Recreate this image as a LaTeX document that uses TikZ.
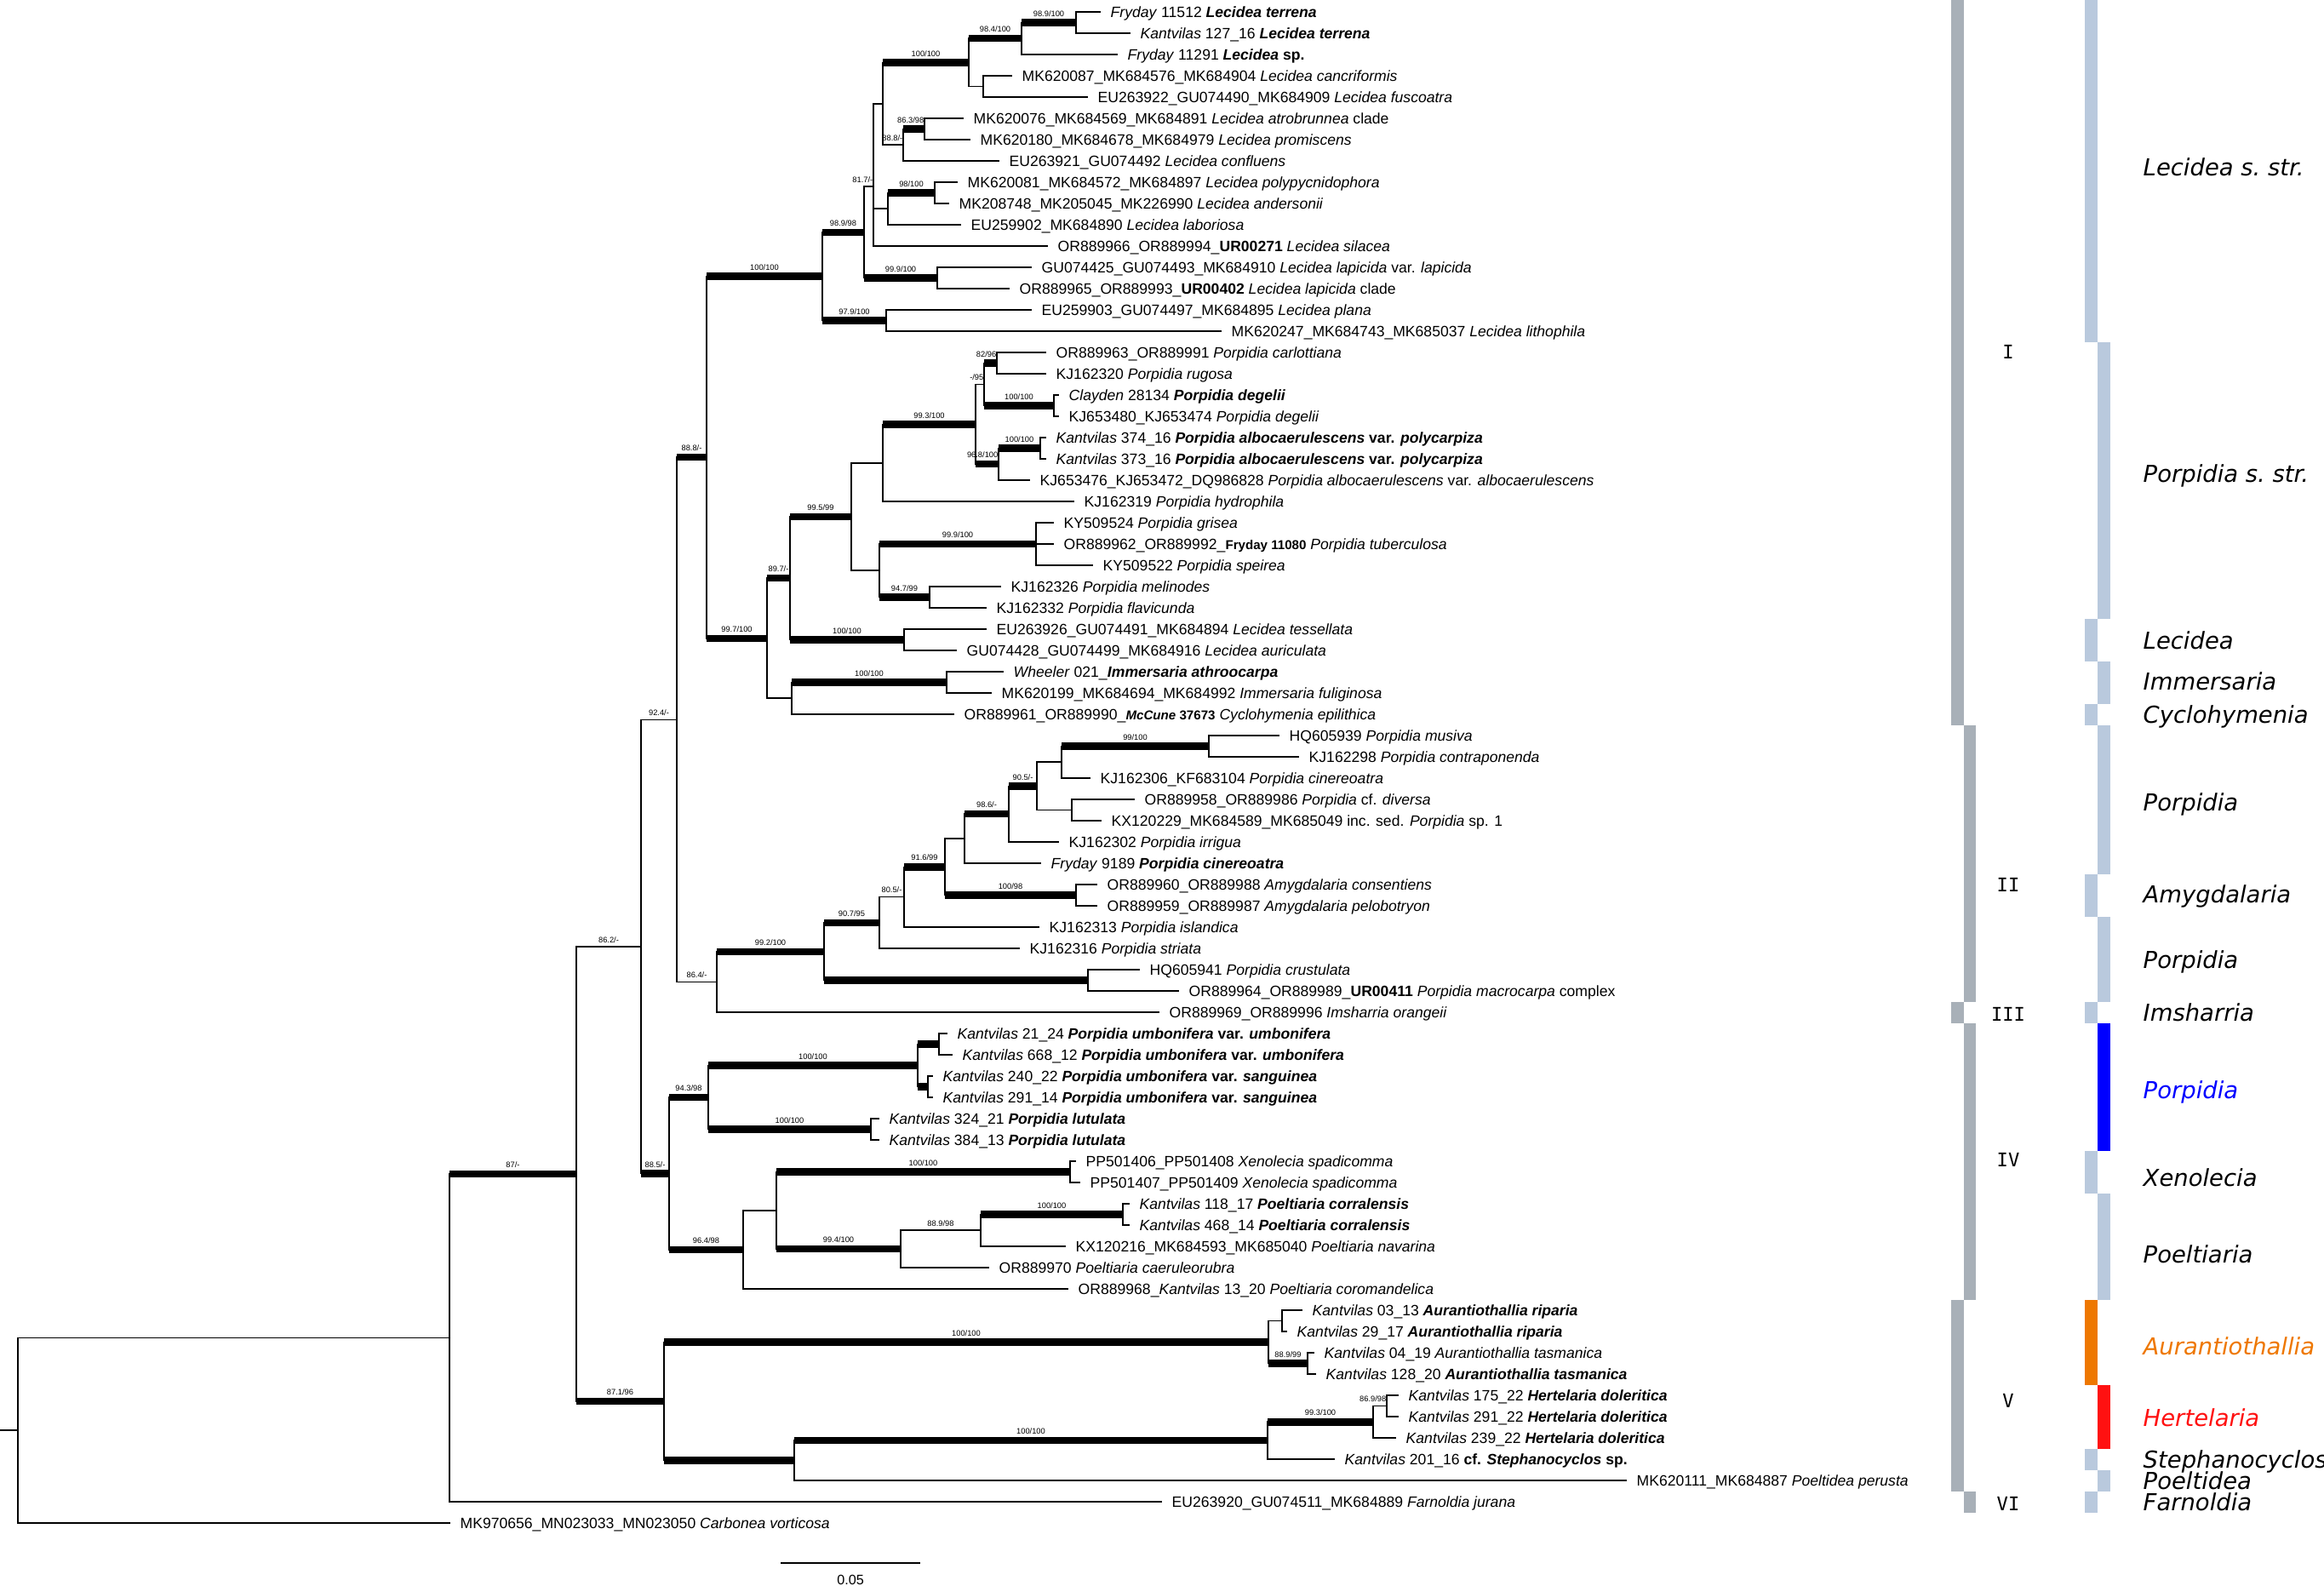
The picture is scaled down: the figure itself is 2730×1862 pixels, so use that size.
\documentclass[tikz,border=0pt]{standalone}
\usepackage{fontspec}
\setmainfont{Liberation Sans}
\newfontfamily\dvsans{DejaVu Sans}
\newfontfamily\dvmono{DejaVu Sans Mono}
\usetikzlibrary{calc}
\definecolor{barg}{HTML}{A8B0B8}
\definecolor{barb}{HTML}{B9C9DD}
\definecolor{clblue}{HTML}{0000FF}
\definecolor{clorange}{HTML}{EE7700}
\definecolor{clred}{HTML}{FF1111}
\newcommand\BI[1]{\textbf{\textit{#1}}}
\newcommand\smb[1]{{\fontsize{4.3}{5}\selectfont\textbf{#1}}}
\tikzset{
  thinbr/.style={line width=0.45pt, line cap=rect},
  thickbr/.style={line width=2.4pt},
  leaf/.style={anchor=base west, inner sep=0pt, font=\fontsize{5}{6}\selectfont, yshift=-1.8pt},
  bsl/.style={anchor=base, inner sep=0pt, font=\fontsize{2.65}{3}\selectfont},
  grp/.style={anchor=base west, inner sep=0pt, font=\dvsans\itshape\fontsize{7.8}{9}\selectfont, yshift=-2.6pt},
  roman/.style={anchor=base, inner sep=0pt, font=\dvmono\fontsize{6.3}{7}\selectfont, yshift=-2.3pt}
}
\newcommand\TNode[3]{\coordinate (#1) at (#2,#3);}
\newcommand\TThick[2]{\draw[thickbr] (#1 |- #2) -- (#2);}
\newcommand\TThin[2]{\draw[thinbr] (#1 |- #2) -- (#2);}
\newcommand\TVert[3]{\draw[thinbr] (#1 |- #2) -- (#1 |- #3);}
\newcommand\LabK[3]{\node[bsl,yshift=2.1pt] (b#2) at ($(#1 |- #2)!0.5!(#2)$) {#3};}
\newcommand\LabN[3]{\node[bsl,yshift=1.4pt] (b#2) at ($(#1 |- #2)!0.5!(#2)$) {#3};}
\newcommand\LabKR[2]{\node[bsl,anchor=base east,yshift=2.1pt] (b#1) at (#1) {#2};}
\newcommand\LabNR[2]{\node[bsl,anchor=base east,yshift=1.4pt] (b#1) at (#1) {#2};}
\newcommand\TLeaf[4]{\coordinate (t#1) at (#3,{25*#1-11});
  \draw[thinbr] (#2 |- t#1) -- (t#1);
  \node[leaf] (n#1) at ($(t#1)+(12,0)$) {#4};}
\begin{document}
\begin{tikzpicture}[x=0.01cm,y=-0.01cm]
\useasboundingbox (0,0) rectangle (2730,1862);
% ---------- internal nodes ----------
\TNode{R}{21}{1680.25}
\TNode{A}{528}{1571.5}
\TNode{B}{677}{1379}
\TNode{C}{753}{1111.9}
\TNode{E}{795}{845.3}
\TNode{F}{830}{537.2}
\TNode{G}{966}{324.6}
\TNode{I}{1015}{272.75}
\TNode{K}{1026}{219}
\TNode{P}{1037}{121.8}
\TNode{M}{1138}{73.4}
\TNode{Ma}{1200}{45.25}
\TNode{T}{1264}{26.5}
\TNode{Mb}{1155}{101.5}
\TNode{N}{1061}{170.25}
\TNode{Na}{1086}{151.5}
\TNode{Oa}{1043}{245.25}
\TNode{O}{1098}{226.5}
\TNode{L}{1101}{326.5}
\TNode{J}{1041}{376.5}
\TNode{H}{901}{749.75}
\TNode{Q}{928}{679.25}
\TNode{S}{1000}{607}
\TNode{V}{1037}{543.7}
\TNode{X}{1146}{498.4}
\TNode{AA}{1156}{451.5}
\TNode{AB}{1171}{426.5}
\TNode{AC}{1238}{476.5}
\TNode{AD}{1173}{545.25}
\TNode{AE}{1222}{526.5}
\TNode{W}{1033}{670.25}
\TNode{Y}{1217}{639}
\TNode{Z}{1092}{701.5}
\TNode{TS}{1062}{751.5}
\TNode{Rr}{930}{820.25}
\TNode{U}{1112}{801.5}
\TNode{AF}{842}{1153.3}
\TNode{AG}{968}{1117.7}
\TNode{AH}{1033}{1083.8}
\TNode{AJ}{1062}{1053.6}
\TNode{AK}{1110}{1018.3}
\TNode{AL}{1133}{985.1}
\TNode{AN}{1185}{956.2}
\TNode{AO}{1218}{923.4}
\TNode{AQ}{1247}{895.25}
\TNode{AP}{1420}{876.5}
\TNode{AR}{1259}{951.5}
\TNode{AM}{1264}{1051.5}
\TNode{AI}{1278}{1151.5}
\TNode{CC}{786}{1378.5}
\TNode{CD}{832}{1289}
\TNode{CE}{1078}{1251.5}
\TNode{Ua}{1103}{1226.5}
\TNode{Ub}{1090}{1276.5}
\TNode{CH}{1023}{1326.5}
\TNode{CI}{873}{1467.9}
\TNode{CJ}{912}{1421.8}
\TNode{CK}{1257}{1376.5}
\TNode{CL}{1058}{1467.1}
\TNode{CM}{1152}{1445.25}
\TNode{CN}{1319}{1426.5}
\TNode{D}{780}{1646}
\TNode{DA}{1490}{1576.5}
\TNode{DB}{1506}{1551.5}
\TNode{DC}{1536}{1601.5}
\TNode{DD}{933}{1715.6}
\TNode{DE}{1489}{1692.1}
\TNode{DF}{1613}{1670.25}
\TNode{DG}{1629}{1651.5}
\coordinate (root0) at (0,1680.25);
% ---------- leaves ----------
\TLeaf{1}{T}{1292}{\textit{Fryday} 11512 \BI{Lecidea terrena}}
\TLeaf{2}{T}{1327}{\textit{Kantvilas} 127\_16 \BI{Lecidea terrena}}
\TLeaf{3}{Ma}{1312}{\textit{Fryday} 11291 \BI{Lecidea} \textbf{sp.}}
\TLeaf{4}{Mb}{1188}{MK620087\_MK684576\_MK684904 \textit{Lecidea cancriformis}}
\TLeaf{5}{Mb}{1277}{EU263922\_GU074490\_MK684909 \textit{Lecidea fuscoatra}}
\TLeaf{6}{Na}{1131}{MK620076\_MK684569\_MK684891 \textit{Lecidea atrobrunnea} clade}
\TLeaf{7}{Na}{1139}{MK620180\_MK684678\_MK684979 \textit{Lecidea promiscens}}
\TLeaf{8}{N}{1173}{EU263921\_GU074492 \textit{Lecidea confluens}}
\TLeaf{9}{O}{1124}{MK620081\_MK684572\_MK684897 \textit{Lecidea polypycnidophora}}
\TLeaf{10}{O}{1114}{MK208748\_MK205045\_MK226990 \textit{Lecidea andersonii}}
\TLeaf{11}{Oa}{1128}{EU259902\_MK684890 \textit{Lecidea laboriosa}}
\TLeaf{12}{K}{1230}{OR889966\_OR889994\_\textbf{UR00271} \textit{Lecidea silacea}}
\TLeaf{13}{L}{1211}{GU074425\_GU074493\_MK684910 \textit{Lecidea lapicida} var. \textit{lapicida}}
\TLeaf{14}{L}{1185}{OR889965\_OR889993\_\textbf{UR00402} \textit{Lecidea lapicida} clade}
\TLeaf{15}{J}{1211}{EU259903\_GU074497\_MK684895 \textit{Lecidea plana}}
\TLeaf{16}{J}{1434}{MK620247\_MK684743\_MK685037 \textit{Lecidea lithophila}}
\TLeaf{17}{AB}{1228}{OR889963\_OR889991 \textit{Porpidia carlottiana}}
\TLeaf{18}{AB}{1228}{KJ162320 \textit{Porpidia rugosa}}
\TLeaf{19}{AC}{1243}{\textit{Clayden} 28134 \BI{Porpidia degelii}}
\TLeaf{20}{AC}{1243}{KJ653480\_KJ653474 \textit{Porpidia degelii}}
\TLeaf{21}{AE}{1228}{\textit{Kantvilas} 374\_16 \textbf{\textit{Porpidia albocaerulescens} var. \textit{polycarpiza}}}
\TLeaf{22}{AE}{1228}{\textit{Kantvilas} 373\_16 \textbf{\textit{Porpidia albocaerulescens} var. \textit{polycarpiza}}}
\TLeaf{23}{AD}{1209}{KJ653476\_KJ653472\_DQ986828 \textit{Porpidia albocaerulescens} var. \textit{albocaerulescens}}
\TLeaf{24}{V}{1261}{KJ162319 \textit{Porpidia hydrophila}}
\TLeaf{25}{Y}{1237}{KY509524 \textit{Porpidia grisea}}
\TLeaf{26}{Y}{1237}{OR889962\_OR889992\_\smb{Fryday 11080} \textit{Porpidia tuberculosa}}
\TLeaf{27}{Y}{1283}{KY509522 \textit{Porpidia speirea}}
\TLeaf{28}{Z}{1175}{KJ162326 \textit{Porpidia melinodes}}
\TLeaf{29}{Z}{1158}{KJ162332 \textit{Porpidia flavicunda}}
\TLeaf{30}{TS}{1158}{EU263926\_GU074491\_MK684894 \textit{Lecidea tessellata}}
\TLeaf{31}{TS}{1123}{GU074428\_GU074499\_MK684916 \textit{Lecidea auriculata}}
\TLeaf{32}{U}{1178}{\textit{Wheeler} 021\_\BI{Immersaria athroocarpa}}
\TLeaf{33}{U}{1164}{MK620199\_MK684694\_MK684992 \textit{Immersaria fuliginosa}}
\TLeaf{34}{Rr}{1120}{OR889961\_OR889990\_{\fontsize{4.3}{5}\selectfont\BI{McCune} \textbf{37673}} \textit{Cyclohymenia epilithica}}
\TLeaf{35}{AP}{1502}{HQ605939 \textit{Porpidia musiva}}
\TLeaf{36}{AP}{1525}{KJ162298 \textit{Porpidia contraponenda}}
\TLeaf{37}{AQ}{1280}{KJ162306\_KF683104 \textit{Porpidia cinereoatra}}
\TLeaf{38}{AR}{1332}{OR889958\_OR889986 \textit{Porpidia} cf. \textit{diversa}}
\TLeaf{39}{AR}{1293}{KX120229\_MK684589\_MK685049 inc. sed. \textit{Porpidia} sp. 1}
\TLeaf{40}{AN}{1243}{KJ162302 \textit{Porpidia irrigua}}
\TLeaf{41}{AL}{1222}{\textit{Fryday} 9189 \BI{Porpidia cinereoatra}}
\TLeaf{42}{AM}{1288}{OR889960\_OR889988 \textit{Amygdalaria consentiens}}
\TLeaf{43}{AM}{1288}{OR889959\_OR889987 \textit{Amygdalaria pelobotryon}}
\TLeaf{44}{AJ}{1220}{KJ162313 \textit{Porpidia islandica}}
\TLeaf{45}{AH}{1197}{KJ162316 \textit{Porpidia striata}}
\TLeaf{46}{AI}{1338}{HQ605941 \textit{Porpidia crustulata}}
\TLeaf{47}{AI}{1384}{OR889964\_OR889989\_\textbf{UR00411} \textit{Porpidia macrocarpa} complex}
\TLeaf{48}{AF}{1361}{OR889969\_OR889996 \textit{Imsharria orangeii}}
\TLeaf{49}{Ua}{1112}{\textit{Kantvilas} 21\_24 \textbf{\textit{Porpidia umbonifera} var. \textit{umbonifera}}}
\TLeaf{50}{Ua}{1118}{\textit{Kantvilas} 668\_12 \textbf{\textit{Porpidia umbonifera} var. \textit{umbonifera}}}
\TLeaf{51}{Ub}{1095}{\textit{Kantvilas} 240\_22 \textbf{\textit{Porpidia umbonifera} var. \textit{sanguinea}}}
\TLeaf{52}{Ub}{1095}{\textit{Kantvilas} 291\_14 \textbf{\textit{Porpidia umbonifera} var. \textit{sanguinea}}}
\TLeaf{53}{CH}{1032}{\textit{Kantvilas} 324\_21 \BI{Porpidia lutulata}}
\TLeaf{54}{CH}{1032}{\textit{Kantvilas} 384\_13 \BI{Porpidia lutulata}}
\TLeaf{55}{CK}{1263}{PP501406\_PP501408 \textit{Xenolecia spadicomma}}
\TLeaf{56}{CK}{1268}{PP501407\_PP501409 \textit{Xenolecia spadicomma}}
\TLeaf{57}{CN}{1326}{\textit{Kantvilas} 118\_17 \BI{Poeltiaria corralensis}}
\TLeaf{58}{CN}{1326}{\textit{Kantvilas} 468\_14 \BI{Poeltiaria corralensis}}
\TLeaf{59}{CM}{1251}{KX120216\_MK684593\_MK685040 \textit{Poeltiaria navarina}}
\TLeaf{60}{CL}{1161}{OR889970 \textit{Poeltiaria caeruleorubra}}
\TLeaf{61}{CI}{1254}{OR889968\_\textit{Kantvilas} 13\_20 \textit{Poeltiaria coromandelica}}
\TLeaf{62}{DB}{1529}{\textit{Kantvilas} 03\_13 \BI{Aurantiothallia riparia}}
\TLeaf{63}{DB}{1511}{\textit{Kantvilas} 29\_17 \BI{Aurantiothallia riparia}}
\TLeaf{64}{DC}{1543}{\textit{Kantvilas} 04\_19 \textit{Aurantiothallia tasmanica}}
\TLeaf{65}{DC}{1545}{\textit{Kantvilas} 128\_20 \BI{Aurantiothallia tasmanica}}
\TLeaf{66}{DG}{1642}{\textit{Kantvilas} 175\_22 \BI{Hertelaria doleritica}}
\TLeaf{67}{DG}{1642}{\textit{Kantvilas} 291\_22 \BI{Hertelaria doleritica}}
\TLeaf{68}{DF}{1639}{\textit{Kantvilas} 239\_22 \BI{Hertelaria doleritica}}
\TLeaf{69}{DE}{1567}{\textit{Kantvilas} 201\_16 \textbf{cf. \textit{Stephanocyclos} sp.}}
\TLeaf{70}{DD}{1910}{MK620111\_MK684887 \textit{Poeltidea perusta}}
\TLeaf{71}{A}{1364}{EU263920\_GU074511\_MK684889 \textit{Farnoldia jurana}}
\TLeaf{72}{R}{528}{MK970656\_MN023033\_MN023050 \textit{Carbonea vorticosa}}
% ---------- verticals ----------
\TVert{R}{A}{t72} \TVert{A}{B}{t71} \TVert{B}{C}{D} \TVert{C}{E}{CC} \TVert{E}{F}{AF}
\TVert{F}{G}{H} \TVert{G}{I}{J} \TVert{I}{K}{L} \TVert{K}{P}{t12} \TVert{P}{M}{N}
\TVert{M}{Ma}{Mb} \TVert{Ma}{T}{t3} \TVert{T}{t1}{t2} \TVert{Mb}{t4}{t5} \TVert{N}{Na}{t8}
\TVert{Na}{t6}{t7} \TVert{Oa}{O}{t11} \TVert{O}{t9}{t10} \TVert{L}{t13}{t14} \TVert{J}{t15}{t16}
\TVert{H}{Q}{Rr} \TVert{Q}{S}{TS} \TVert{S}{V}{W} \TVert{V}{X}{t24} \TVert{X}{AA}{AD}
\TVert{AA}{AB}{AC} \TVert{AB}{t17}{t18} \TVert{AC}{t19}{t20} \TVert{AD}{AE}{t23} \TVert{AE}{t21}{t22}
\TVert{W}{Y}{Z} \TVert{Y}{t25}{t27} \TVert{Z}{t28}{t29} \TVert{TS}{t30}{t31} \TVert{Rr}{U}{t34}
\TVert{U}{t32}{t33} \TVert{AF}{AG}{t48} \TVert{AG}{AH}{AI} \TVert{AH}{AJ}{t45} \TVert{AJ}{AK}{t44}
\TVert{AK}{AL}{AM} \TVert{AL}{AN}{t41} \TVert{AN}{AO}{t40} \TVert{AO}{AQ}{AR} \TVert{AQ}{AP}{t37}
\TVert{AP}{t35}{t36} \TVert{AR}{t38}{t39} \TVert{AM}{t42}{t43} \TVert{AI}{t46}{t47}
\TVert{CC}{CD}{CI} \TVert{CD}{CE}{CH} \TVert{CE}{Ua}{Ub} \TVert{Ua}{t49}{t50} \TVert{Ub}{t51}{t52}
\TVert{CH}{t53}{t54} \TVert{CI}{CJ}{t61} \TVert{CJ}{CK}{CL} \TVert{CK}{t55}{t56} \TVert{CL}{CM}{t60}
\TVert{CM}{CN}{t59} \TVert{CN}{t57}{t58} \TVert{D}{DA}{DD} \TVert{DA}{DB}{DC} \TVert{DB}{t62}{t63}
\TVert{DC}{t64}{t65} \TVert{DD}{DE}{t70} \TVert{DE}{DF}{t69} \TVert{DF}{DG}{t68} \TVert{DG}{t66}{t67}
% ---------- horizontal branches ----------
\draw[thinbr] (root0) -- (R);
\TThin{R}{A} \TThick{A}{B} \TThin{B}{C} \TThick{B}{D} \TThin{C}{E} \TThick{C}{CC}
\TThick{E}{F} \TThin{E}{AF} \TThick{F}{G} \TThick{F}{H} \TThick{G}{I} \TThick{G}{J}
\TThin{I}{K} \TThick{I}{L} \TThin{K}{P} \TThin{K}{Oa} \TThick{P}{M} \TThin{P}{N}
\TThick{M}{Ma} \TThin{M}{Mb} \TThick{Ma}{T} \TThick{N}{Na} \TThick{Oa}{O}
\TThick{H}{Q} \TThin{H}{Rr} \TThick{Q}{S} \TThick{Q}{TS} \TThin{S}{V} \TThin{S}{W}
\TThick{V}{X} \TThin{X}{AA} \TThick{X}{AD} \TThick{AA}{AB} \TThick{AA}{AC} \TThick{AD}{AE}
\TThick{W}{Y} \TThick{W}{Z} \TThick{Rr}{U}
\TThick{AF}{AG} \TThick{AG}{AH} \TThick{AG}{AI} \TThin{AH}{AJ} \TThick{AJ}{AK}
\TThin{AK}{AL} \TThick{AK}{AM} \TThick{AL}{AN} \TThick{AN}{AO} \TThin{AO}{AQ} \TThin{AO}{AR} \TThick{AQ}{AP}
\TThick{CC}{CD} \TThick{CC}{CI} \TThick{CD}{CE} \TThick{CD}{CH} \TThick{CE}{Ua} \TThick{CE}{Ub}
\TThin{CI}{CJ} \TThick{CJ}{CK} \TThick{CJ}{CL} \TThin{CL}{CM} \TThick{CM}{CN}
\TThick{D}{DA} \TThick{D}{DD} \TThin{DA}{DB} \TThick{DA}{DC} \TThick{DD}{DE} \TThick{DE}{DF} \TThin{DF}{DG}
% ---------- support values ----------
\LabK{A}{B}{87/-} \LabN{B}{C}{86.2/-} \LabN{C}{E}{92.4/-} \LabK{E}{F}{88.8/-}
\LabK{F}{G}{100/100} \LabK{G}{I}{98.9/98} \LabNR{K}{81.7/-} \LabK{P}{M}{100/100}
\LabK{M}{Ma}{98.4/100} \LabK{Ma}{T}{98.9/100} \LabNR{N}{88.8/-} \LabKR{Na}{86.3/98}
\LabK{Oa}{O}{98/100} \LabK{I}{L}{99.9/100} \LabK{G}{J}{97.9/100} \LabK{F}{H}{99.7/100}
\LabK{H}{Q}{89.7/-} \LabK{Q}{S}{99.5/99} \LabK{V}{X}{99.3/100} \LabNR{AA}{-/95}
\LabKR{AB}{82/96} \LabK{AA}{AC}{100/100} \LabKR{AD}{96.8/100} \LabK{AD}{AE}{100/100}
\LabK{W}{Y}{99.9/100} \LabK{W}{Z}{94.7/99} \LabK{Q}{TS}{100/100} \LabK{Rr}{U}{100/100}
\LabN{E}{AF}{86.4/-} \LabK{AF}{AG}{99.2/100} \LabK{AG}{AH}{90.7/95} \LabN{AH}{AJ}{80.5/-}
\LabK{AJ}{AK}{91.6/99} \LabK{AL}{AN}{98.6/-} \LabK{AN}{AO}{90.5/-} \LabK{AQ}{AP}{99/100}
\LabK{AK}{AM}{100/98} \LabK{C}{CC}{88.5/-} \LabK{CC}{CD}{94.3/98} \LabK{CD}{CE}{100/100}
\LabK{CD}{CH}{100/100} \LabK{CC}{CI}{96.4/98} \LabK{CJ}{CK}{100/100} \LabK{CJ}{CL}{99.4/100}
\LabN{CL}{CM}{88.9/98} \LabK{CM}{CN}{100/100} \LabK{B}{D}{87.1/96} \LabK{D}{DA}{100/100}
\LabK{DA}{DC}{88.9/99} \LabK{DD}{DE}{100/100} \LabK{DE}{DF}{99.3/100} \LabNR{DG}{86.9/98}
% ---------- scale bar ----------
\coordinate (sb1) at (917,1836);
\coordinate (sb2) at (1081,1836);
\draw[line width=0.5pt] (sb1) -- (sb2);
\node[anchor=base, inner sep=0pt, font=\fontsize{4.6}{5}\selectfont] (sbl) at (999,1861) {0.05};
% ---------- clade bars ----------
\fill[barg] (2292,0) rectangle (2307,851.5);
\fill[barg] (2307,851.5) rectangle (2321,1176.5);
\fill[barg] (2292,1176.5) rectangle (2307,1201.5);
\fill[barg] (2307,1201.5) rectangle (2321,1526.5);
\fill[barg] (2292,1526.5) rectangle (2307,1751.5);
\fill[barg] (2307,1751.5) rectangle (2321,1776.5);
\fill[barb] (2449,0) rectangle (2464,401.5);
\fill[barb] (2464,401.5) rectangle (2479,726.5);
\fill[barb] (2449,726.5) rectangle (2464,776.5);
\fill[barb] (2464,776.5) rectangle (2479,826.5);
\fill[barb] (2449,826.5) rectangle (2464,851.5);
\fill[barb] (2464,851.5) rectangle (2479,1026.5);
\fill[barb] (2449,1026.5) rectangle (2464,1076.5);
\fill[barb] (2464,1076.5) rectangle (2479,1176.5);
\fill[barb] (2449,1176.5) rectangle (2464,1201.5);
\fill[clblue] (2464,1201.5) rectangle (2479,1351.5);
\fill[barb] (2449,1351.5) rectangle (2464,1401.5);
\fill[barb] (2464,1401.5) rectangle (2479,1526.5);
\fill[clorange] (2449,1526.5) rectangle (2464,1626.5);
\fill[clred] (2464,1626.5) rectangle (2479,1701.5);
\fill[barb] (2449,1701.5) rectangle (2464,1726.5);
\fill[barb] (2464,1726.5) rectangle (2479,1751.5);
\fill[barb] (2449,1751.5) rectangle (2464,1776.5);
% ---------- clade numerals ----------
\node[roman] (r1) at (2359,413) {I};
\node[roman] (r2) at (2359,1039) {II};
\node[roman] (r3) at (2359,1191) {III};
\node[roman] (r4) at (2359,1362) {IV};
\node[roman] (r5) at (2359,1645) {V};
\node[roman] (r6) at (2359,1766) {VI};
% ---------- genus labels ----------
\node[grp] (g1) at (2517,197) {Lecidea s.\ str.};
\node[grp] (g2) at (2517,557) {Porpidia s.\ str.};
\node[grp] (g3) at (2517,753) {Lecidea};
\node[grp] (g4) at (2517,801) {Immersaria};
\node[grp] (g5) at (2517,840) {Cyclohymenia};
\node[grp] (g6) at (2517,943) {Porpidia};
\node[grp] (g7) at (2517,1051) {Amygdalaria};
\node[grp] (g8) at (2517,1128) {Porpidia};
\node[grp] (g9) at (2517,1190) {Imsharria};
\node[grp, text=clblue] (g10) at (2517,1281) {Porpidia};
\node[grp] (g11) at (2517,1384) {Xenolecia};
\node[grp] (g12) at (2517,1474) {Poeltiaria};
\node[grp, text=clorange] (g13) at (2517,1582) {Aurantiothallia};
\node[grp, text=clred] (g14) at (2517,1666) {Hertelaria};
\node[grp] (g15) at (2517,1715) {Stephanocyclos};
\node[grp] (g16) at (2517,1740) {Poeltidea};
\node[grp] (g17) at (2517,1765) {Farnoldia};
\end{tikzpicture}
\end{document}
